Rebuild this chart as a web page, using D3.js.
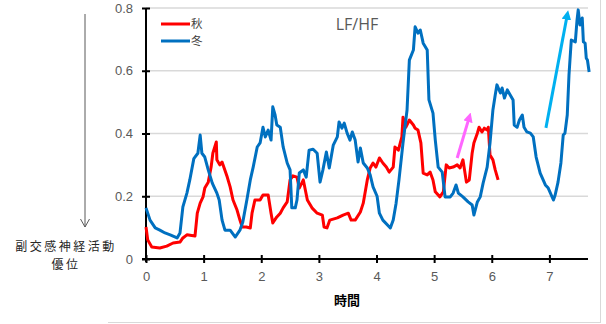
<!DOCTYPE html>
<html><head><meta charset="utf-8">
<script src="https://cdn.jsdelivr.net/npm/d3@7"></script>
<style>body{margin:0;background:#fff}svg{display:block}</style>
</head><body>
<svg id="c" width="606" height="324"></svg>
<script>
const seriesNames = ["秋", "冬"];
const seriesColors = ["#ff0000", "#0070c0"];
const yTicks = [0, 0.2, 0.4, 0.6, 0.8];
const xTicks = [0, 1, 2, 3, 4, 5, 6, 7];

const autumnHours = [0.00,0.03,0.10,0.24,0.36,0.47,0.59,0.64,0.71,0.85,0.89,0.94,0.99,1.02,1.08,1.13,1.16,1.22,1.23,1.28,1.32,1.35,1.41,1.46,1.51,1.58,1.63,1.67,1.74,1.81,1.84,1.89,1.98,2.03,2.12,2.17,2.20,2.27,2.33,2.38,2.45,2.50,2.55,2.62,2.66,2.73,2.80,2.88,2.97,3.06,3.09,3.14,3.19,3.32,3.42,3.51,3.56,3.63,3.72,3.77,3.84,3.89,3.94,3.99,4.05,4.11,4.17,4.22,4.29,4.32,4.38,4.44,4.46,4.51,4.57,4.64,4.67,4.72,4.77,4.81,4.88,4.93,4.98,5.02,5.10,5.16,5.21,5.26,5.33,5.40,5.45,5.50,5.56,5.61,5.66,5.69,5.75,5.78,5.83,5.87,5.92,5.94,5.97,6.02,6.06,6.11];
const autumnValues = [0.102,0.061,0.038,0.035,0.041,0.051,0.054,0.067,0.077,0.073,0.146,0.178,0.198,0.226,0.245,0.293,0.337,0.373,0.316,0.300,0.309,0.293,0.261,0.230,0.188,0.156,0.124,0.102,0.102,0.099,0.146,0.188,0.188,0.204,0.204,0.146,0.115,0.134,0.146,0.163,0.182,0.252,0.265,0.261,0.226,0.252,0.188,0.163,0.146,0.140,0.102,0.099,0.124,0.131,0.140,0.146,0.124,0.124,0.150,0.178,0.252,0.290,0.306,0.293,0.322,0.306,0.293,0.277,0.293,0.357,0.347,0.389,0.452,0.420,0.443,0.427,0.417,0.411,0.370,0.274,0.268,0.277,0.252,0.214,0.198,0.214,0.300,0.290,0.293,0.300,0.290,0.316,0.245,0.252,0.338,0.370,0.401,0.420,0.405,0.417,0.411,0.420,0.331,0.316,0.284,0.252];

const winterHours = [0.00,0.07,0.16,0.24,0.33,0.42,0.54,0.59,0.64,0.71,0.76,0.83,0.90,0.94,0.97,1.02,1.08,1.15,1.23,1.27,1.32,1.37,1.46,1.55,1.63,1.68,1.75,1.81,1.86,1.93,1.98,2.03,2.07,2.12,2.17,2.20,2.24,2.27,2.33,2.38,2.45,2.50,2.53,2.59,2.62,2.66,2.73,2.78,2.83,2.90,2.97,3.02,3.07,3.13,3.18,3.25,3.32,3.35,3.40,3.44,3.49,3.54,3.58,3.63,3.68,3.72,3.77,3.84,3.89,3.94,4.01,4.05,4.11,4.24,4.29,4.34,4.39,4.46,4.53,4.57,4.64,4.67,4.72,4.76,4.81,4.88,4.91,4.98,5.02,5.07,5.14,5.19,5.28,5.33,5.38,5.42,5.50,5.59,5.66,5.69,5.75,5.80,5.85,5.92,5.97,6.02,6.06,6.09,6.15,6.18,6.22,6.27,6.32,6.37,6.39,6.44,6.48,6.53,6.56,6.61,6.67,6.72,6.77,6.84,6.93,6.98,7.07,7.10,7.15,7.20,7.24,7.27,7.31,7.34,7.38,7.45,7.48,7.50,7.53,7.57,7.59,7.62,7.64,7.66,7.69];
const winterValues = [0.163,0.124,0.099,0.092,0.083,0.077,0.067,0.083,0.166,0.210,0.252,0.320,0.337,0.395,0.337,0.325,0.284,0.242,0.210,0.188,0.124,0.092,0.092,0.070,0.092,0.118,0.188,0.252,0.293,0.357,0.370,0.420,0.389,0.411,0.379,0.485,0.459,0.427,0.420,0.357,0.306,0.284,0.163,0.163,0.188,0.274,0.284,0.261,0.347,0.350,0.337,0.245,0.284,0.341,0.290,0.363,0.389,0.437,0.417,0.433,0.401,0.379,0.405,0.379,0.309,0.354,0.306,0.290,0.268,0.230,0.200,0.146,0.124,0.099,0.124,0.178,0.252,0.370,0.475,0.634,0.666,0.740,0.720,0.730,0.688,0.666,0.507,0.465,0.379,0.293,0.277,0.198,0.198,0.210,0.236,0.210,0.198,0.182,0.172,0.140,0.182,0.198,0.242,0.293,0.370,0.475,0.523,0.555,0.529,0.545,0.513,0.539,0.523,0.507,0.427,0.420,0.443,0.459,0.420,0.405,0.401,0.389,0.325,0.274,0.236,0.226,0.188,0.204,0.245,0.306,0.395,0.401,0.459,0.586,0.698,0.692,0.762,0.794,0.746,0.768,0.692,0.688,0.640,0.634,0.596];

// annotation arrows in data units: [x1, y1, x2, y2]
const pinkArrow = [5.40, 0.322, 5.61, 0.452];
const cyanArrow = [6.94, 0.418, 7.31, 0.778];

const svg = d3.select("#c");
const x = d3.scaleLinear().domain([0, 7.67]).range([146, 588]);
const y = d3.scaleLinear().domain([0, 0.8]).range([259, 8]);

// frame edges
svg.append("line").attr("x1",108).attr("x2",601).attr("y1",322.5).attr("y2",322.5).attr("stroke","#d9d9d9");
svg.append("line").attr("x1",600.5).attr("x2",600.5).attr("y1",0).attr("y2",323).attr("stroke","#d9d9d9");

// gridlines
svg.append("g").selectAll("line").data(yTicks.filter(d=>d>0)).join("line")
  .attr("x1", x(0)).attr("x2", x(7.67))
  .attr("y1", d=>y(d)).attr("y2", d=>y(d))
  .attr("stroke","#d9d9d9").attr("stroke-width",1.5);

// y axis
const yAxis = svg.append("g").attr("transform",`translate(${x(0)},0)`)
  .call(d3.axisLeft(y).tickValues(yTicks).tickFormat(d=>d===0?"0":d3.format(".1f")(d)).tickSize(4).tickPadding(9));
yAxis.select(".domain").attr("stroke","#000").attr("stroke-width",2).attr("d",`M0,${y(0)+3}V${y(0.8)}`);
yAxis.selectAll(".tick line").attr("x1",-4).attr("x2",4).attr("stroke","#000").attr("stroke-width",2);
yAxis.selectAll(".tick text").attr("fill","#595959").style("font-family","Liberation Sans, Arial, sans-serif").style("font-size","13px");

// x axis
const xAxis = svg.append("g").attr("transform",`translate(0,${y(0)})`)
  .call(d3.axisBottom(x).tickValues(xTicks).tickFormat(d3.format("d")).tickSize(4).tickPadding(9));
xAxis.select(".domain").attr("stroke","#000").attr("stroke-width",2).attr("d",`M${x(0)-4},0H${x(7.67)}`);
xAxis.selectAll(".tick line").attr("y1",-4).attr("y2",4).attr("stroke","#000").attr("stroke-width",2);
xAxis.selectAll(".tick text").attr("fill","#595959").style("font-family","Liberation Sans, Arial, sans-serif").style("font-size","13px");

// lines
const line = d3.line().x(d=>x(d[0])).y(d=>y(d[1]));
const autumn = autumnHours.map((h,i)=>[h, autumnValues[i]]);
const winter = winterHours.map((h,i)=>[h, winterValues[i]]);
svg.append("path").datum(autumn).attr("d",line).attr("fill","none").attr("stroke",seriesColors[0]).attr("stroke-width",3).attr("stroke-linejoin","round");
svg.append("path").datum(winter).attr("d",line).attr("fill","none").attr("stroke",seriesColors[1]).attr("stroke-width",3).attr("stroke-linejoin","round");

// arrows
const defs = svg.append("defs");
function marker(id, color){
  defs.append("marker").attr("id",id).attr("viewBox","0 0 10 10").attr("refX",5).attr("refY",5)
    .attr("markerWidth",3.2).attr("markerHeight",3.2).attr("orient","auto")
    .append("path").attr("d","M0,0L10,5L0,10z").attr("fill",color);
}
marker("mp","#ff66ff"); marker("mc","#00b0f0");
svg.append("line").attr("x1",x(pinkArrow[0])).attr("y1",y(pinkArrow[1])).attr("x2",x(pinkArrow[2])).attr("y2",y(pinkArrow[3]))
  .attr("stroke","#ff66ff").attr("stroke-width",3).attr("marker-end","url(#mp)");
svg.append("line").attr("x1",x(cyanArrow[0])).attr("y1",y(cyanArrow[1])).attr("x2",x(cyanArrow[2])).attr("y2",y(cyanArrow[3]))
  .attr("stroke","#00b0f0").attr("stroke-width",3).attr("marker-end","url(#mc)");

// legend
const lg = svg.append("g");
seriesNames.forEach((n,i)=>{
  const yy = 24 + i*17;
  lg.append("line").attr("x1",161).attr("x2",190).attr("y1",yy).attr("y2",yy).attr("stroke",seriesColors[i]).attr("stroke-width",3);
  lg.append("text").attr("x",191).attr("y",yy+4).text(n).attr("fill","#404040")
    .style("font-family","Noto Sans CJK JP").style("font-size","11.5px");
});

// title
svg.append("text").attr("x",357).attr("y",30).attr("text-anchor","middle").text("LF/HF")
  .attr("fill","#595959").style("font-family","Open Sans, sans-serif").style("font-size","16px");

// x axis title
svg.append("text").attr("x",347).attr("y",305).attr("text-anchor","middle").text("時間")
  .attr("fill","#000").style("font-family","Noto Sans CJK JP").style("font-size","13px").style("font-weight","bold");

// left annotation
svg.append("line").attr("x1",85).attr("x2",85).attr("y1",14).attr("y2",227).attr("stroke","#595959").attr("stroke-width",1);
svg.append("path").attr("d","M80.5,219L85,227L89.5,219").attr("fill","none").attr("stroke","#595959").attr("stroke-width",1);
svg.append("text").attr("x",66).attr("y",251).attr("text-anchor","middle").text("副交感神経活動")
  .attr("fill","#262626").style("font-family","Noto Sans CJK JP").style("font-size","12px").style("letter-spacing","2.5px");
svg.append("text").attr("x",66).attr("y",269).attr("text-anchor","middle").text("優位")
  .attr("fill","#262626").style("font-family","Noto Sans CJK JP").style("font-size","12px").style("letter-spacing","2.5px");
</script>
</body></html>
